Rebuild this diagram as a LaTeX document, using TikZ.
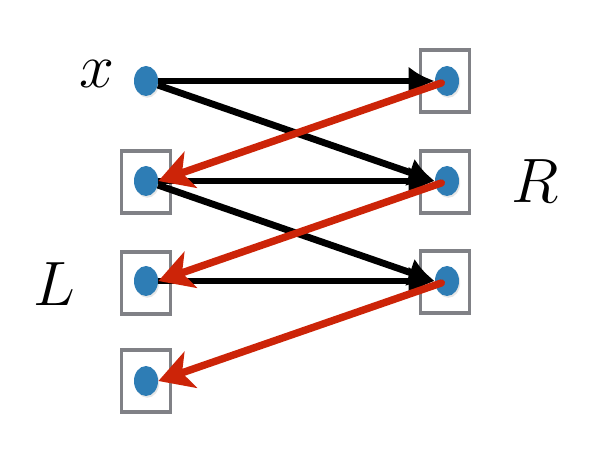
\documentclass[tikz,border=0pt]{standalone}
\definecolor{dotblue}{RGB}{46,125,181}
\definecolor{framegray}{RGB}{128,129,134}
\definecolor{backred}{RGB}{204,36,8}
\usepackage{tikz}
\usetikzlibrary{arrows.meta,shapes.geometric,shadows}
\newcommand{\sidelabel}[1]{\scalebox{1.26}{$#1$}}
\tikzset{
  pt/.style={ellipse, fill=dotblue, inner sep=0pt, minimum width=12pt, minimum height=15pt,
             drop shadow={shadow xshift=0.6pt, shadow yshift=-0.9pt, opacity=0.2}},
  frame/.style={draw=framegray, line width=1.6pt, inner sep=0pt,
             minimum width=24.5pt, minimum height=31pt},
  fwd/.style={-{Latex[length=13pt,width=14.5pt]}, line width=3.4pt, black},
  back/.style={-{Stealth[length=17pt,width=19pt,inset=4.5pt]}, line width=3.7pt, backred,
             line cap=round, shorten <=3pt},
  lbl/.style={font=\Huge, inner sep=0pt},
}

\begin{document}
\begin{tikzpicture}[x=0.5pt,y=-0.5pt]
        \useasboundingbox (0,0) rectangle (606,470);
        % frames
        \node[frame](fl2) at (146,182){};
        \node[frame](fl3) at (146,283){};
        \node[frame](fl4) at (146,381){};
        \node[frame](fr1) at (445,81){};
        \node[frame](fr2) at (445,182){};
        \node[frame](fr3) at (445,282){};
        % points
        \node[pt](l1) at (146,81){};
        \node[pt](l2) at (146,181){};
        \node[pt](l3) at (146,281){};
        \node[pt](l4) at (146,381){};
        \node[pt](r1) at (447,81){};
        \node[pt](r2) at (447,181){};
        \node[pt](r3) at (447,281){};
        \node[lbl](x) at (97,74){\sidelabel{x}};
        \node[lbl](R) at (535,181){\sidelabel{R}};
        \node[lbl](L) at (54,284){\sidelabel{L}};
        \draw[fwd](l1)--(r1.west); \draw[fwd](l1)--(r2.west);
        \draw[fwd](l2)--(r2.west); \draw[fwd](l2)--(r3.west);
        \draw[fwd](l3)--(r3.west);
        \draw[back](r1.center)--(l2.east);
        \draw[back](r2.center)--(l3.east);
        \draw[back](r3.center)--(l4.east);
      \end{tikzpicture}
\end{document}
